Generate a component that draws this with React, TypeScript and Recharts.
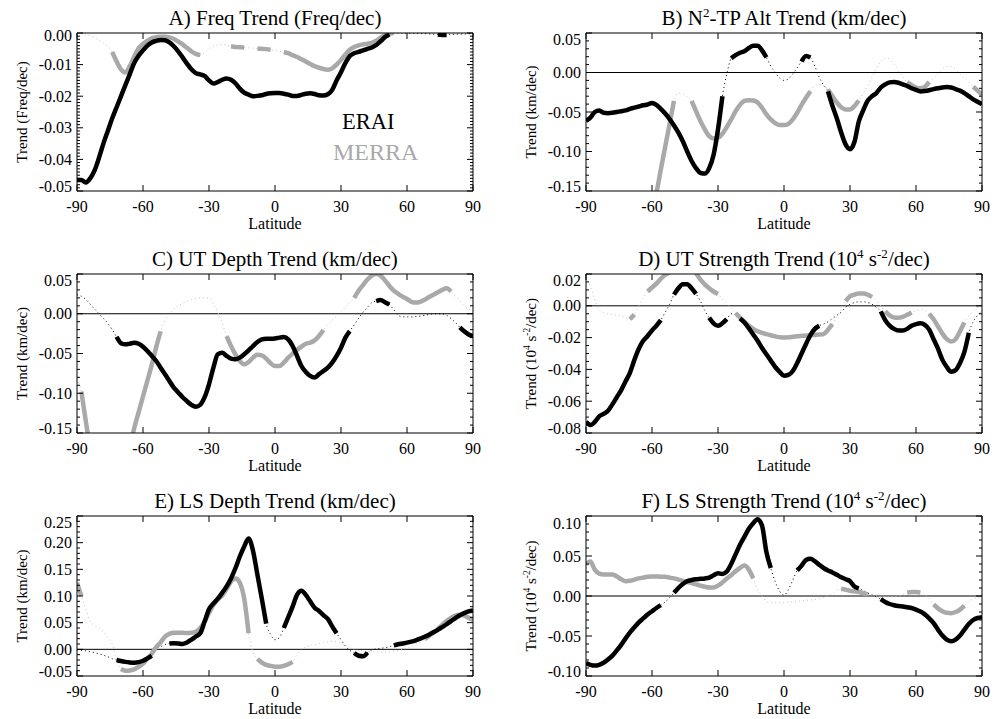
import React from 'react';
import { LineChart, Line, XAxis, YAxis, ReferenceLine } from 'recharts';

const FONT = '"Liberation Serif", "Times New Roman", Times, serif';
const ERAI_COLOR = '#000000';
const MERRA_COLOR = '#a9a9a9';
const MERRA_DOT_COLOR = '#c2c2c2';

// 2-degree latitude grid, -90 .. 90
const latitudes = Array.from({ length: 91 }, (_, i) => -90 + 2 * i);
const latTicks = [-90, -60, -30, 0, 30, 60, 90];

type Range = [number, number];

// A) occurrence frequency trend
const freqErai = [
  -0.0465, -0.0465, -0.0473, -0.046, -0.0435, -0.0395, -0.035, -0.031, -0.027, -0.0235,
  -0.02, -0.0165, -0.013, -0.0095, -0.0072, -0.0055, -0.004, -0.003, -0.0025, -0.0022,
  -0.0023, -0.003, -0.0042, -0.0058, -0.0077, -0.0097, -0.0115, -0.0127, -0.0131, -0.0136,
  -0.015, -0.016, -0.0155, -0.0148, -0.0144, -0.0148, -0.0159, -0.0176, -0.0189, -0.0195,
  -0.02, -0.0199, -0.0197, -0.0193, -0.0191, -0.019, -0.019, -0.0192, -0.0195, -0.0199,
  -0.0199, -0.0196, -0.0192, -0.0191, -0.0193, -0.0197, -0.0198, -0.0194, -0.018, -0.015,
  -0.0124, -0.0095, -0.0073, -0.0064, -0.006, -0.0055, -0.005, -0.0046, -0.0038, -0.0026,
  -0.0013, -0.0004, -0.0001, 0, 0, -0.0001, -0.0001, -0.0001, -0.0002, -0.0002,
  -0.0003, -0.0004, -0.0005, -0.0006, -0.0006, -0.0005, -0.0004, -0.0003, -0.0003, -0.0002,
  -0.0002,
];
const freqMerra = [
  0, -0.0001, -0.0003, -0.0008, -0.0015, -0.0023, -0.0032, -0.0043, -0.006, -0.009,
  -0.0115, -0.0125, -0.0105, -0.0075, -0.0048, -0.0035, -0.0024, -0.0017, -0.0013, -0.0012,
  -0.0012, -0.0014, -0.0019, -0.0027, -0.0036, -0.0047, -0.0058, -0.0066, -0.007, -0.0062,
  -0.005, -0.0042, -0.0038, -0.0036, -0.0038, -0.0042, -0.0044, -0.0045, -0.0046, -0.0047,
  -0.0048, -0.0049, -0.005, -0.0051, -0.0053, -0.0055, -0.0058, -0.006, -0.0064, -0.007,
  -0.0076, -0.0083, -0.009, -0.0098, -0.0105, -0.011, -0.0114, -0.0116, -0.0112, -0.01,
  -0.0085, -0.0068, -0.0053, -0.0044, -0.0039, -0.0036, -0.0034, -0.0031, -0.0024, -0.0015,
  -0.0007, -0.0002, 0, 0, 0, 0, 0, 0, 0, 0,
  0, -0.0001, -0.0001, -0.0001, -0.0002, -0.0003, -0.0004, -0.0005, -0.0006, -0.0006,
  -0.0007,
];
const freqEraiSig: Range[] = [[-90, 52], [74, 78]];
const freqMerraSig: Range[] = [[-74, -34], [-20, -14], [-8, -2], [4, 54]];
const freqTicks = [0, -0.01, -0.02, -0.03, -0.04, -0.05];

// B) N2 tropopause altitude trend
const n2AltErai = [
  -0.061, -0.057, -0.05, -0.048, -0.051, -0.0515, -0.051, -0.05, -0.049, -0.048,
  -0.046, -0.0445, -0.043, -0.0415, -0.0405, -0.0385, -0.041, -0.046, -0.052, -0.059,
  -0.067, -0.076, -0.087, -0.1, -0.112, -0.121, -0.127, -0.128, -0.121, -0.104,
  -0.072, -0.03, -0.002, 0.018, 0.022, 0.025, 0.027, 0.031, 0.034, 0.034,
  0.028, 0.019, 0.008, 0, -0.007, -0.01, -0.008, -0.002, 0.006, 0.014,
  0.021, 0.019, 0.008, -0.006, -0.016, -0.024, -0.042, -0.058, -0.076, -0.091,
  -0.097, -0.088, -0.062, -0.048, -0.036, -0.03, -0.026, -0.019, -0.015, -0.0125,
  -0.012, -0.013, -0.015, -0.017, -0.02, -0.022, -0.024, -0.0235, -0.0225, -0.021,
  -0.02, -0.019, -0.0185, -0.019, -0.021, -0.023, -0.026, -0.03, -0.034, -0.037,
  -0.04,
];
const n2AltMerra = [
  -0.34, -0.34, -0.335, -0.33, -0.32, -0.31, -0.3, -0.285, -0.27, -0.255,
  -0.24, -0.225, -0.21, -0.196, -0.181, -0.166, -0.152, -0.123, -0.094, -0.065,
  -0.036, -0.026, -0.027, -0.031, -0.036, -0.049, -0.0615, -0.072, -0.0805, -0.0834,
  -0.0825, -0.0775, -0.069, -0.0594, -0.049, -0.041, -0.036, -0.035, -0.0354, -0.038,
  -0.0446, -0.053, -0.0594, -0.064, -0.0666, -0.0666, -0.065, -0.0594, -0.051, -0.041,
  -0.032, -0.0236, -0.017, -0.015, -0.017, -0.0215, -0.03, -0.038, -0.044, -0.0468,
  -0.0468, -0.0425, -0.0354, -0.027, -0.017, -0.006, 0.005, 0.014, 0.0185, 0.017,
  0.011, 0.002, -0.006, -0.012, -0.016, -0.019, -0.02, -0.018, -0.012, -0.007,
  -0.002, 0.004, 0.0075, 0.0075, 0.004, -0.002, -0.007, -0.012, -0.018, -0.023,
  -0.028,
];
const n2AltEraiSig: Range[] = [[-90, -28], [-24, -8], [8, 12], [20, 90]];
const n2AltMerraSig: Range[] = [[-62, -50], [-42, 12], [20, 34], [56, 66], [86, 90]];
const n2AltTicks = [0.05, 0, -0.05, -0.1, -0.15];

// C) upper troposphere depth trend
const utDepthErai = [
  0.024, 0.022, 0.018, 0.012, 0.006, 0, -0.006, -0.012, -0.02, -0.029,
  -0.037, -0.0385, -0.0377, -0.0364, -0.0377, -0.0414, -0.0469, -0.053, -0.0594, -0.0678,
  -0.076, -0.0845, -0.093, -0.099, -0.105, -0.11, -0.1146, -0.117, -0.1146, -0.105,
  -0.0887, -0.0678, -0.051, -0.049, -0.053, -0.0565, -0.0573, -0.0552, -0.051, -0.046,
  -0.0406, -0.0356, -0.0322, -0.0314, -0.0314, -0.031, -0.03, -0.0293, -0.0322, -0.0406,
  -0.053, -0.0657, -0.0732, -0.0782, -0.0803, -0.076, -0.072, -0.0678, -0.0615, -0.053,
  -0.0427, -0.03, -0.0218, -0.014, -0.006, 0.002, 0.008, 0.014, 0.016, 0.0172,
  0.0146, 0.0117, 0.005, -0.002, -0.004, -0.004, -0.004, -0.0035, -0.003, -0.002,
  -0.001, 0, 0, 0, -0.002, -0.006, -0.011, -0.017, -0.022, -0.026,
  -0.028,
];
const utDepthMerra = [
  -0.082, -0.098, -0.135, -0.17, -0.2, -0.23, -0.25, -0.26, -0.26, -0.25,
  -0.225, -0.205, -0.17, -0.144, -0.124, -0.104, -0.084, -0.064, -0.042, -0.022,
  -0.008, 0, 0.006, 0.01, 0.013, 0.0155, 0.0175, 0.019, 0.02, 0.02,
  0.02, 0.012, 0.002, -0.012, -0.028, -0.0406, -0.051, -0.0594, -0.0636, -0.0607,
  -0.0552, -0.0515, -0.0523, -0.0565, -0.0623, -0.0657, -0.0657, -0.0615, -0.0552, -0.0502,
  -0.0456, -0.0414, -0.0377, -0.0364, -0.0335, -0.028, -0.0205, -0.014, -0.008, -0.003,
  0.002, 0.008, 0.014, 0.02, 0.029, 0.036, 0.043, 0.048, 0.05, 0.048,
  0.042, 0.035, 0.029, 0.025, 0.0215, 0.0185, 0.015, 0.014, 0.015, 0.0175,
  0.021, 0.024, 0.027, 0.03, 0.032, 0.028, 0.022, 0.016, 0.01, 0.006,
  0.004,
];
const utDepthEraiSig: Range[] = [[-72, 34], [46, 52], [84, 90]];
const utDepthMerraSig: Range[] = [[-88, -52], [-22, 22], [36, 80]];
const utDepthTicks = [0.05, 0, -0.05, -0.1, -0.15];

// D) upper troposphere strength trend
const utStrengthErai = [
  -0.073, -0.075, -0.073, -0.0695, -0.068, -0.066, -0.062, -0.0575, -0.053, -0.0475,
  -0.042, -0.034, -0.027, -0.022, -0.019, -0.0155, -0.0125, -0.009, -0.004, 0.001,
  0.007, 0.011, 0.0135, 0.0135, 0.011, 0.0075, 0.003, -0.003, -0.0075, -0.011,
  -0.0126, -0.011, -0.0084, -0.005, -0.005, -0.008, -0.0105, -0.014, -0.018, -0.022,
  -0.0265, -0.0305, -0.0345, -0.0385, -0.0415, -0.044, -0.0435, -0.041, -0.036, -0.03,
  -0.024, -0.0185, -0.0145, -0.0125, -0.0115, -0.01, -0.008, -0.006, -0.004, -0.001,
  0.001, 0.002, 0.0025, 0.0025, 0.002, 0.001, -0.001, -0.0035, -0.009, -0.0125,
  -0.0145, -0.0155, -0.0155, -0.0145, -0.0125, -0.0115, -0.011, -0.012, -0.015, -0.021,
  -0.027, -0.034, -0.0385, -0.0415, -0.0405, -0.036, -0.029, -0.017, -0.01, -0.006,
  -0.003,
];
const utStrengthMerra = [
  0.018, 0.012, 0.004, -0.0025, -0.0045, -0.005, -0.0055, -0.006, -0.0065, -0.0075,
  -0.0085, -0.0055, 0, 0.005, 0.009, 0.0115, 0.014, 0.017, 0.0195, 0.021,
  0.023, 0.025, 0.026, 0.0255, 0.0235, 0.0205, 0.0165, 0.0135, 0.011, 0.009,
  0.0074, 0.004, 0.001, -0.0015, -0.0045, -0.0075, -0.01, -0.0125, -0.0145, -0.016,
  -0.017, -0.0178, -0.0185, -0.0192, -0.0197, -0.02, -0.0198, -0.0195, -0.0192, -0.0189,
  -0.0187, -0.0185, -0.0183, -0.0181, -0.0178, -0.015, -0.0115, -0.007, -0.002, 0.003,
  0.006, 0.007, 0.0078, 0.0078, 0.007, 0.0055, 0.003, 0, -0.0035, -0.006,
  -0.0073, -0.0075, -0.007, -0.0057, -0.0042, -0.0032, -0.0025, -0.003, -0.005, -0.0085,
  -0.013, -0.0175, -0.021, -0.0225, -0.021, -0.016, -0.0105, -0.0065, -0.0035, -0.001,
  0.001,
];
const utStrengthEraiSig: Range[] = [[-90, -56], [-50, -40], [-34, -26], [-20, 16], [44, 84]];
const utStrengthMerraSig: Range[] = [[-70, -68], [-62, -30], [-22, 22], [28, 40], [46, 58], [66, 82]];
const utStrengthTicks = [0.02, 0, -0.02, -0.04, -0.06, -0.08];

// E) lower stratosphere depth trend
const lsDepthErai = [
  -0.001, -0.002, -0.003, -0.0045, -0.0065, -0.0085, -0.011, -0.014, -0.0175, -0.02,
  -0.022, -0.0235, -0.0245, -0.025, -0.024, -0.0215, -0.017, -0.012, 0.001, 0.005,
  0.009, 0.011, 0.0115, 0.011, 0.01, 0.013, 0.018, 0.024, 0.03, 0.052,
  0.075, 0.086, 0.095, 0.106, 0.118, 0.133, 0.152, 0.174, 0.193, 0.208,
  0.185, 0.14, 0.095, 0.048, 0.028, 0.018, 0.022, 0.04, 0.06, 0.08,
  0.102, 0.11, 0.102, 0.09, 0.078, 0.072, 0.064, 0.057, 0.043, 0.03,
  0.018, 0.006, -0.002, -0.007, -0.012, -0.013, -0.006, -0.001, 0.001, 0.002,
  0.003, 0.005, 0.0075, 0.0095, 0.011, 0.0125, 0.0145, 0.017, 0.02, 0.0235,
  0.0275, 0.032, 0.0365, 0.0415, 0.047, 0.053, 0.0585, 0.064, 0.068, 0.071,
  0.073,
];
const lsDepthMerra = [
  0.125, 0.1, 0.075, 0.052, 0.045, 0.04, 0.033, 0.022, 0.01, -0.02,
  -0.037, -0.04, -0.0395, -0.0375, -0.033, -0.027, -0.017, -0.008, 0.004, 0.013,
  0.024, 0.029, 0.031, 0.031, 0.031, 0.0305, 0.031, 0.033, 0.04, 0.052,
  0.068, 0.083, 0.093, 0.101, 0.113, 0.127, 0.133, 0.125, 0.095, 0.03,
  -0.005, -0.018, -0.025, -0.029, -0.031, -0.0325, -0.0325, -0.031, -0.028, -0.0235,
  -0.01, 0, 0.005, 0.007, 0.009, 0.011, 0.0125, 0.014, 0.015, 0.014,
  0.011, 0.008, 0.003, 0, -0.002, -0.003, -0.004, -0.0045, -0.005, -0.005,
  -0.005, -0.0045, -0.0035, -0.002, 0, 0.002, 0.005, 0.009, 0.014, 0.019,
  0.025, 0.031, 0.038, 0.046, 0.053, 0.059, 0.063, 0.065, 0.063, 0.059,
  0.055,
];
const lsDepthEraiSig: Range[] = [[-72, -56], [-48, -4], [4, 28], [36, 42], [54, 90]];
const lsDepthMerraSig: Range[] = [[-90, -88], [-70, -56], [-54, -12], [-8, 8], [68, 90]];
const lsDepthTicks = [0.25, 0.2, 0.15, 0.1, 0.05, 0, -0.05];

// F) lower stratosphere strength trend
const lsStrengthErai = [
  -0.084, -0.086, -0.087, -0.086, -0.0835, -0.0795, -0.0745, -0.068, -0.061, -0.053,
  -0.0455, -0.039, -0.033, -0.028, -0.023, -0.019, -0.015, -0.0115, -0.0075, -0.002,
  0.004, 0.01, 0.015, 0.0185, 0.02, 0.021, 0.0215, 0.022, 0.023, 0.026,
  0.0285, 0.0275, 0.0305, 0.04, 0.052, 0.064, 0.074, 0.084, 0.091, 0.096,
  0.088, 0.055, 0.035, 0.018, 0.006, 0.001, 0.008, 0.02, 0.032, 0.038,
  0.045, 0.0465, 0.0435, 0.039, 0.035, 0.032, 0.0295, 0.0265, 0.0235, 0.021,
  0.0185, 0.012, 0.0095, 0.007, 0.004, 0.0015, -0.001, -0.004, -0.0075, -0.01,
  -0.0115, -0.0125, -0.013, -0.014, -0.015, -0.017, -0.0195, -0.023, -0.028, -0.034,
  -0.042, -0.0495, -0.0545, -0.0565, -0.0545, -0.0495, -0.042, -0.035, -0.03, -0.0275,
  -0.0265,
];
const lsStrengthMerra = [
  0.04, 0.043, 0.033, 0.028, 0.027, 0.027, 0.027, 0.0245, 0.021, 0.0185,
  0.019, 0.0205, 0.022, 0.023, 0.024, 0.0245, 0.0245, 0.024, 0.024, 0.023,
  0.022, 0.0205, 0.019, 0.0175, 0.016, 0.0145, 0.013, 0.0115, 0.0105, 0.0105,
  0.013, 0.017, 0.022, 0.026, 0.031, 0.035, 0.038, 0.033, 0.022, 0.008,
  0, -0.0065, -0.008, -0.0085, -0.0085, -0.008, -0.0075, -0.007, -0.0065, -0.006,
  -0.0055, -0.005, -0.0045, -0.0035, -0.002, 0, 0.003, 0.007, 0.009, 0.008,
  0.0065, 0.0058, 0.005, 0.0035, 0.002, 0.0005, 0, -0.001, -0.001, -0.001,
  -0.0005, 0, 0.002, 0.0045, 0.005, 0.005, 0.0045, 0.0015, -0.003, -0.0105,
  -0.0155, -0.019, -0.021, -0.0215, -0.02, -0.017, -0.012, -0.007, -0.004, -0.002,
  0,
];
const lsStrengthEraiSig: Range[] = [[-90, -56], [-50, -6], [6, 34], [44, 90]];
const lsStrengthMerraSig: Range[] = [[-90, -14], [26, 30], [32, 38], [56, 62], [68, 82]];
const lsStrengthTicks = [0.1, 0.05, 0, -0.05, -0.1];

type TextPart = { text: string; sup?: boolean };

const inRanges = (lat: number, ranges: Range[]) =>
  ranges.some(([a, b]) => lat >= a && lat <= b);

// full curve (drawn dotted) plus the significant stretches (drawn thick)
function buildRows(erai: number[], merra: number[], eraiSig: Range[], merraSig: Range[]) {
  return latitudes.map((lat, i) => ({
    lat,
    erai: erai[i],
    merra: merra[i],
    eraiSig: inRanges(lat, eraiSig) ? erai[i] : null,
    merraSig: inRanges(lat, merraSig) ? merra[i] : null,
  }));
}

const PLOT_W = 396;
const AXIS_W = 77;
const TOP_GAP = 6;
const BOTTOM_H = 40;
const CHART_W = AXIS_W + PLOT_W + 10;

interface PanelConfig {
  left: number;
  top: number;
  height: number;
  domain: [number, number];
  majors: number[];
  minorStep: number;
  topShift: number;
  zero: boolean;
  rows: ReturnType<typeof buildRows>;
  title: TextPart[];
  yLabel: TextPart[];
}

function Panel({ cfg }: { cfg: PanelConfig }) {
  const { left, top, height, domain, majors, minorStep, topShift, zero, rows } = cfg;
  const [lo, hi] = domain;
  const n = Math.round((hi - lo) / minorStep);
  const yTicks = Array.from({ length: n + 1 }, (_, i) => Number((lo + i * minorStep).toFixed(6)));
  const majorOf = (v: number) => majors.find((m) => Math.abs(m - v) < minorStep / 10);

  const leftTick = (props: any) => {
    const { x, y, payload } = props;
    const m = majorOf(payload.value);
    let ly = y;
    if (m !== undefined && Math.abs(m - hi) < 1e-9) ly += topShift;
    if (m !== undefined && Math.abs(m - lo) < 1e-9) ly -= 5;
    return (
      <g>
        <line x1={x} x2={x + (m !== undefined ? 6 : 3)} y1={y} y2={y} stroke="#000" />
        {m !== undefined && (
          <text x={x - 5} y={ly + 5.5} textAnchor="end" fontSize={16} fontFamily={FONT} fill="#000">
            {m.toFixed(2)}
          </text>
        )}
      </g>
    );
  };
  const rightTick = (props: any) => {
    const { x, y, payload } = props;
    const m = majorOf(payload.value);
    return <line x1={x} x2={x - (m !== undefined ? 6 : 3)} y1={y} y2={y} stroke="#000" />;
  };
  const bottomTick = (props: any) => {
    const { x, y, payload } = props;
    return (
      <g>
        <line x1={x} x2={x} y1={y} y2={y - 6} stroke="#000" />
        <text x={x} y={y + 20.5} textAnchor="middle" fontSize={16} fontFamily={FONT} fill="#000">
          {payload.value}
        </text>
      </g>
    );
  };
  const topTick = (props: any) => {
    const { x, y } = props;
    return <line x1={x} x2={x} y1={y} y2={y + 6} stroke="#000" />;
  };

  return (
    <div style={{ position: 'absolute', left: left - AXIS_W, top: top - TOP_GAP }}>
      <LineChart
        width={CHART_W}
        height={height + TOP_GAP + BOTTOM_H + 4}
        data={rows}
        margin={{ top: 4, right: 8, bottom: 4, left: 0 }}
      >
        <XAxis
          xAxisId="b"
          dataKey="lat"
          type="number"
          domain={[-90, 90]}
          ticks={latTicks}
          interval={0}
          height={BOTTOM_H}
          tickSize={0}
          tickMargin={0}
          tickLine={false}
          tick={bottomTick}
          axisLine={{ stroke: '#000' }}
          allowDataOverflow
        />
        <XAxis
          xAxisId="t"
          orientation="top"
          dataKey="lat"
          type="number"
          domain={[-90, 90]}
          ticks={latTicks}
          interval={0}
          height={2}
          tickSize={0}
          tickMargin={0}
          tickLine={false}
          tick={topTick}
          axisLine={{ stroke: '#000' }}
          allowDataOverflow
        />
        <YAxis
          yAxisId="l"
          type="number"
          domain={domain}
          ticks={yTicks}
          interval={0}
          width={AXIS_W}
          tickSize={0}
          tickMargin={0}
          tickLine={false}
          tick={leftTick}
          axisLine={{ stroke: '#000' }}
          allowDataOverflow
        />
        <YAxis
          yAxisId="r"
          orientation="right"
          type="number"
          domain={domain}
          ticks={yTicks}
          interval={0}
          width={2}
          tickSize={0}
          tickMargin={0}
          tickLine={false}
          tick={rightTick}
          axisLine={{ stroke: '#000' }}
          allowDataOverflow
        />
        {zero && <ReferenceLine xAxisId="b" yAxisId="l" y={0} stroke="#000" strokeWidth={1} />}
        <Line xAxisId="b" yAxisId="l" type="monotone" dataKey="merra" stroke={MERRA_DOT_COLOR}
          strokeWidth={1} strokeDasharray="1 3" dot={false} activeDot={false} isAnimationActive={false} />
        <Line xAxisId="b" yAxisId="l" type="monotone" dataKey="erai" stroke={ERAI_COLOR}
          strokeWidth={1} strokeDasharray="1 3" dot={false} activeDot={false} isAnimationActive={false} />
        <Line xAxisId="b" yAxisId="l" type="monotone" dataKey="merraSig" stroke={MERRA_COLOR}
          strokeWidth={4.5} dot={false} activeDot={false} isAnimationActive={false} />
        <Line xAxisId="b" yAxisId="l" type="monotone" dataKey="eraiSig" stroke={ERAI_COLOR}
          strokeWidth={4.5} dot={false} activeDot={false} isAnimationActive={false} />
      </LineChart>
    </div>
  );
}

function renderParts(parts: TextPart[], size: number) {
  let offset = 0;
  return parts.map((p, i) => {
    const target = p.sup ? -size * 0.4 : 0;
    const dy = target - offset;
    offset = target;
    return (
      <tspan key={i} dy={dy} fontSize={p.sup ? size * 0.62 : size}>
        {p.text}
      </tspan>
    );
  });
}

const kmLabel: TextPart[] = [{ text: 'Trend (km/dec)' }];
const strengthLabel: TextPart[] = [
  { text: 'Trend (10' }, { text: '4', sup: true }, { text: ' s' }, { text: '-2', sup: true }, { text: '/dec)' },
];

const panels: PanelConfig[] = [
  {
    left: 77, top: 33, height: 158, domain: [-0.05, 0], majors: freqTicks, minorStep: 0.001,
    topShift: 2.5, zero: false, rows: buildRows(freqErai, freqMerra, freqEraiSig, freqMerraSig),
    title: [{ text: 'A) Freq Trend (Freq/dec)' }], yLabel: [{ text: 'Trend (Freq/dec)' }],
  },
  {
    left: 586, top: 33, height: 158, domain: [-0.15, 0.05], majors: n2AltTicks, minorStep: 0.01,
    topShift: 6, zero: true, rows: buildRows(n2AltErai, n2AltMerra, n2AltEraiSig, n2AltMerraSig),
    title: [{ text: 'B) N' }, { text: '2', sup: true }, { text: '-TP Alt Trend (km/dec)' }], yLabel: kmLabel,
  },
  {
    left: 77, top: 274, height: 159, domain: [-0.15, 0.05], majors: utDepthTicks, minorStep: 0.01,
    topShift: 6, zero: true, rows: buildRows(utDepthErai, utDepthMerra, utDepthEraiSig, utDepthMerraSig),
    title: [{ text: 'C) UT Depth Trend (km/dec)' }], yLabel: kmLabel,
  },
  {
    left: 586, top: 274, height: 159, domain: [-0.08, 0.02], majors: utStrengthTicks, minorStep: 0.005,
    topShift: 6, zero: true, rows: buildRows(utStrengthErai, utStrengthMerra, utStrengthEraiSig, utStrengthMerraSig),
    title: [
      { text: 'D) UT Strength Trend (10' }, { text: '4', sup: true }, { text: ' s' },
      { text: '-2', sup: true }, { text: '/dec)' },
    ],
    yLabel: strengthLabel,
  },
  {
    left: 77, top: 516, height: 160, domain: [-0.05, 0.25], majors: lsDepthTicks, minorStep: 0.01,
    topShift: 6, zero: true, rows: buildRows(lsDepthErai, lsDepthMerra, lsDepthEraiSig, lsDepthMerraSig),
    title: [{ text: 'E) LS Depth Trend (km/dec)' }], yLabel: kmLabel,
  },
  {
    left: 586, top: 516, height: 160, domain: [-0.1, 0.1], majors: lsStrengthTicks, minorStep: 0.01,
    topShift: 7, zero: true, rows: buildRows(lsStrengthErai, lsStrengthMerra, lsStrengthEraiSig, lsStrengthMerraSig),
    title: [
      { text: 'F) LS Strength Trend (10' }, { text: '4', sup: true }, { text: ' s' },
      { text: '-2', sup: true }, { text: '/dec)' },
    ],
    yLabel: strengthLabel,
  },
];

export default function App() {
  return (
    <div
      style={{
        position: 'absolute', left: 0, top: 0, width: 1002, height: 719,
        background: '#fff', overflow: 'hidden', fontFamily: FONT,
      }}
    >
      {panels.map((cfg, i) => (
        <Panel key={i} cfg={cfg} />
      ))}
      <svg
        width={1002}
        height={719}
        style={{ position: 'absolute', left: 0, top: 0, pointerEvents: 'none' }}
        fontFamily={FONT}
      >
        {panels.map((cfg, i) => {
          const cx = cfg.left + PLOT_W / 2;
          const cy = cfg.top + cfg.height / 2;
          const lx = cfg.left - 50;
          return (
            <g key={i}>
              <text x={cx} y={cfg.top - 8} textAnchor="middle" fontSize={21} fill="#000">
                {renderParts(cfg.title, 21)}
              </text>
              <text x={lx} y={cy} textAnchor="middle" fontSize={15} fill="#000"
                transform={`rotate(-90 ${lx} ${cy})`}>
                {renderParts(cfg.yLabel, 15)}
              </text>
              <text x={cx} y={cfg.top + cfg.height + 38} textAnchor="middle" fontSize={16} fill="#000">
                Latitude
              </text>
            </g>
          );
        })}
        <text x={342} y={128.5} fontSize={22.5} fill={ERAI_COLOR}>ERAI</text>
        <text x={333} y={159.5} fontSize={24} fill={MERRA_COLOR}>MERRA</text>
      </svg>
    </div>
  );
}
